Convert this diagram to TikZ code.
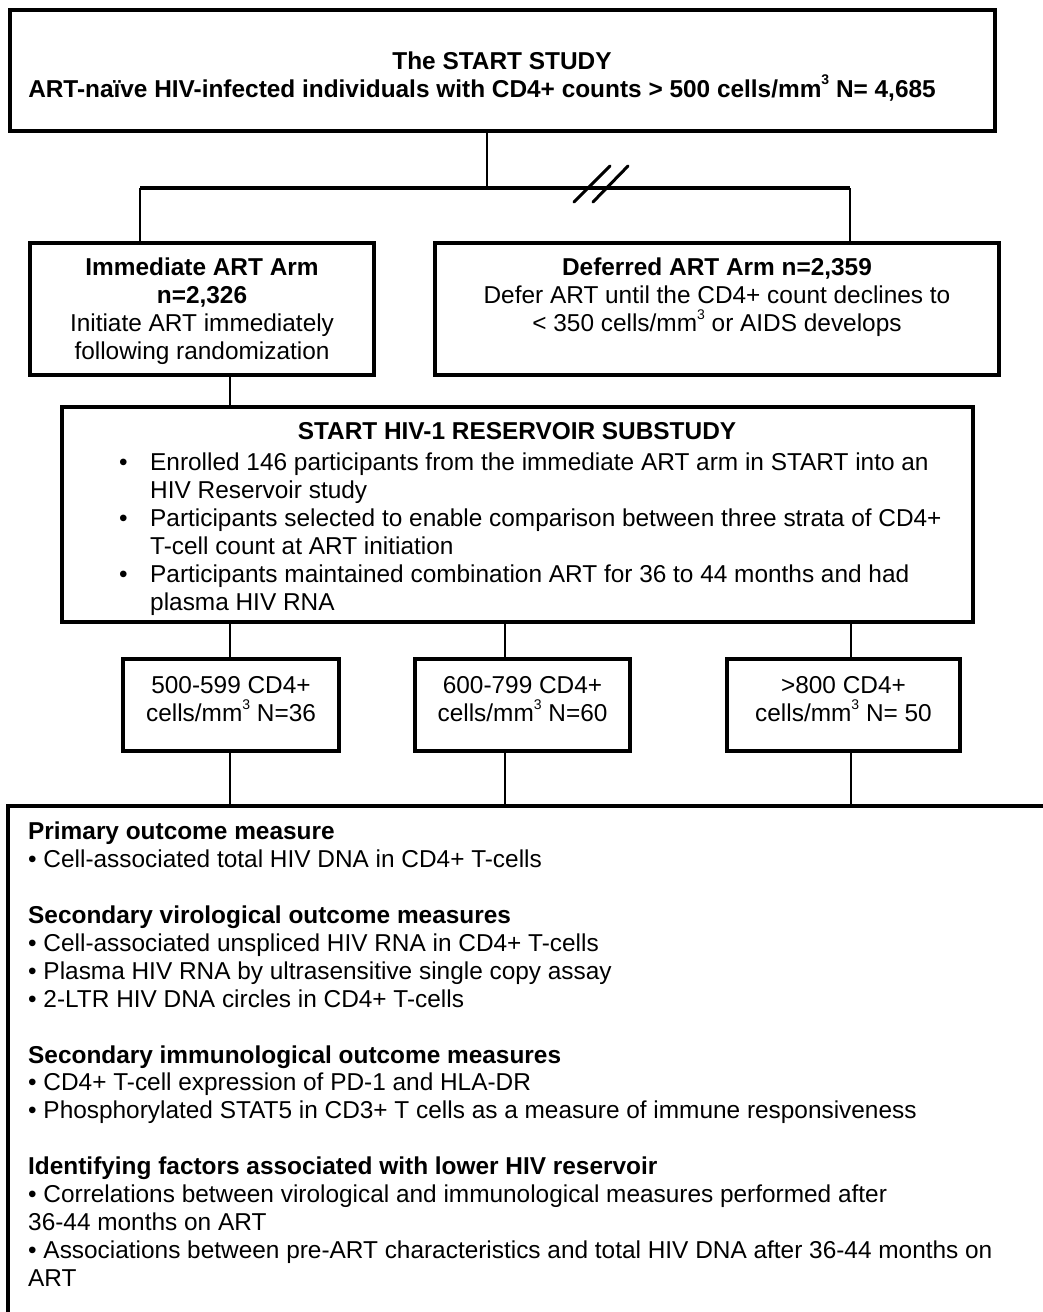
\documentclass[tikz,border=0pt]{standalone}
\usepackage{fontspec}
\setmainfont{Liberation Sans}
\newcommand\dgfont{\fontsize{24.4}{27.9}\selectfont}
\newcommand\cubed{\raisebox{0.5em}{\fontsize{14}{14}\selectfont 3}}
\begin{document}
\begin{tikzpicture}[x=1pt,y=-1pt,
  box/.style={draw=black, line width=3.6pt, rectangle, inner sep=0pt},
  conn/.style={line width=2pt, draw=black},
  barline/.style={line width=3.6pt, draw=black},
  txt/.style={inner sep=0pt, align=center, font=\dgfont},
  ltxt/.style={inner sep=0pt, align=left, font=\dgfont, anchor=north west},
  slash/.style={line width=3pt, line cap=round}]
\clip (0,0) rectangle (1043,1312);
\fill[white] (0,0) rectangle (1043,1312);

% boxes
\node[box, minimum width=985pt, minimum height=121pt] (top) at (502.5,70.5) {};
\node[box, minimum width=344pt, minimum height=132pt] (imm) at (202,309) {};
\node[box, minimum width=564pt, minimum height=132pt] (def) at (717,309) {};
\node[box, minimum width=911pt, minimum height=215pt] (sub) at (517.5,514.5) {};
\node[box, minimum width=216pt, minimum height=92pt] (s1) at (231,705) {};
\node[box, minimum width=215pt, minimum height=92pt] (s2) at (522.5,705) {};
\node[box, minimum width=233pt, minimum height=92pt] (s3) at (843.5,705) {};
\node[box, minimum width=1192pt, minimum height=694pt] (out) at (604,1153) {};

% texts
\node[txt] (t1) at (502,61) {\textbf{The START STUDY}};
\node[txt] (t2) at (482,88) {\textbf{ART-naïve HIV-infected individuals with CD4+ counts > 500 cells/mm\cubed\ N= 4,685}};
\node[txt] (timm) at (202,311) {\textbf{Immediate ART Arm}\\ \textbf{n=2,326}\\ Initiate ART immediately\\ following randomization};
\node[txt] (tdef) at (717,297) {\textbf{Deferred ART Arm n=2,359}\\ Defer ART until the CD4+ count declines to\\ < 350 cells/mm\cubed\ or AIDS develops};
\node[txt] (tsub) at (517,431) {\textbf{START HIV-1 RESERVOIR SUBSTUDY}};
\node[ltxt] (tsubl) at (119,451) {\dgfont\begin{tabular}{@{}p{31pt}@{}l@{}}
•& Enrolled 146 participants from the immediate ART arm in START into an\\
 & HIV Reservoir study\\
•& Participants selected to enable comparison between three strata of CD4+\\
 & T-cell count at ART initiation\\
•& Participants maintained combination ART for 36 to 44 months and had\\
 & plasma HIV RNA
\end{tabular}};
\node[txt] (ts1) at (231,699) {500-599 CD4+\\ cells/mm\cubed\ N=36};
\node[txt] (ts2) at (522.5,699) {600-799 CD4+\\ cells/mm\cubed\ N=60};
\node[txt] (ts3) at (843.5,699) {>800 CD4+\\ cells/mm\cubed\ N= 50};
\node[ltxt] (tout) at (28,822) {\textbf{Primary outcome measure}\\
• Cell-associated total HIV DNA in CD4+ T-cells\\
\mbox{}\\
\textbf{Secondary virological outcome measures}\\
• Cell-associated unspliced HIV RNA in CD4+ T-cells\\
• Plasma HIV RNA by ultrasensitive single copy assay\\
• 2-LTR HIV DNA circles in CD4+ T-cells\\
\mbox{}\\
\textbf{Secondary immunological outcome measures}\\
• CD4+ T-cell expression of PD-1 and HLA-DR\\
• Phosphorylated STAT5 in CD3+ T cells as a measure of immune responsiveness\\
\mbox{}\\
\textbf{Identifying factors associated with lower HIV reservoir}\\
• Correlations between virological and immunological measures performed after\\
36-44 months on ART\\
• Associations between pre-ART characteristics and total HIV DNA after 36-44 months on\\
ART};

% connectors
\coordinate (barL) at (140,188);
\coordinate (barR) at (850,188);
\coordinate (barM) at (487,188);
\coordinate (sx0) at (230,0);
\coordinate (xa) at (230,0);
\coordinate (xb) at (505,0);
\coordinate (xc) at (851,0);
\draw[conn] (top.south -| barM) -- (barM);
\draw[barline] (barL) -- (barR);
\draw[conn] (barL) -- (imm.north -| barL);
\draw[conn] (barR) -- (def.north -| barR);
\coordinate (sl1a) at (574,202);
\coordinate (sl1b) at (610,166);
\coordinate (sl2a) at (593,202);
\coordinate (sl2b) at (628,166);
\draw[slash] (sl1a) -- (sl1b);
\draw[slash] (sl2a) -- (sl2b);
\draw[conn] (imm.south -| sx0) -- (sub.north -| sx0);
\draw[conn] (sub.south -| xa) -- (s1.north -| xa);
\draw[conn] (sub.south -| xb) -- (s2.north -| xb);
\draw[conn] (sub.south -| xc) -- (s3.north -| xc);
\draw[conn] (s1.south -| xa) -- (out.north -| xa);
\draw[conn] (s2.south -| xb) -- (out.north -| xb);
\draw[conn] (s3.south -| xc) -- (out.north -| xc);
\end{tikzpicture}
\end{document}
